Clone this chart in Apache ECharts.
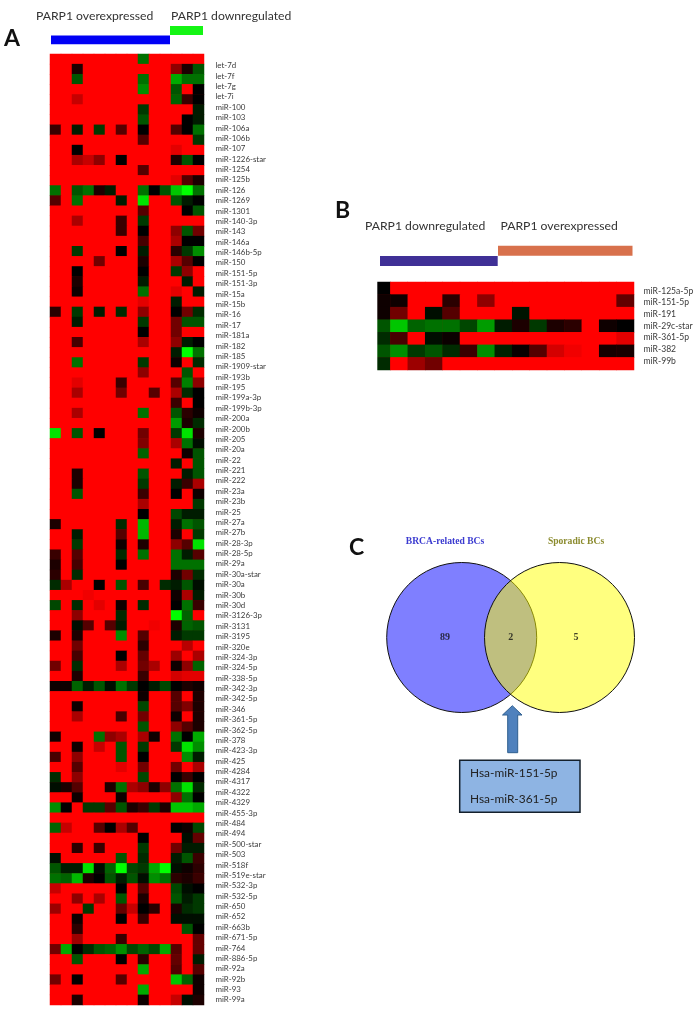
<!DOCTYPE html>
<html>
<head>
<meta charset="utf-8">
<style>html,body{margin:0;padding:0;background:#fff}#chart{width:700px;height:1014px;filter:blur(0.45px)}</style>
<script src="https://cdn.jsdelivr.net/npm/echarts@6/dist/echarts.min.js"></script>
</head>
<body>
<div id="chart"></div>
<script>
// Colour scale: -9 bright green, 0 black, +9 bright red. Cells not listed in a row are +9.
const background = 9;
const labelsA = ["let-7d","let-7f","let-7g","let-7i","miR-100","miR-103","miR-106a","miR-106b","miR-107","miR-1226-star","miR-1254","miR-125b","miR-126","miR-1269","miR-1301","miR-140-3p","miR-143","miR-146a","miR-146b-5p","miR-150","miR-151-5p","miR-151-3p","miR-15a","miR-15b","miR-16","miR-17","miR-181a","miR-182","miR-185","miR-1909-star","miR-193b","miR-195","miR-199a-3p","miR-199b-3p","miR-200a","miR-200b","miR-205","miR-20a","miR-22","miR-221","miR-222","miR-23a","miR-23b","miR-25","miR-27a","miR-27b","miR-28-3p","miR-28-5p","miR-29a","miR-30a-star","miR-30a","miR-30b","miR-30d","miR-3126-3p","miR-3131","miR-3195","miR-320e","miR-324-3p","miR-324-5p","miR-338-5p","miR-342-3p","miR-342-5p","miR-346","miR-361-5p","miR-362-5p","miR-378","miR-423-3p","miR-425","miR-4284","miR-4317","miR-4322","miR-4329","miR-455-3p","miR-484","miR-494","miR-500-star","miR-503","miR-518f","miR-519e-star","miR-532-3p","miR-532-5p","miR-650","miR-652","miR-663b","miR-671-5p","miR-764","miR-886-5p","miR-92a","miR-92b","miR-93","miR-99a"];
const rowsA = [
{8:-4},
{2:1,11:5,12:1,13:-3},
{2:-3,8:-4,11:-6,12:-4,13:-4},
{8:-5,11:-3,13:0},
{2:7,11:-3.5,12:2,13:0},
{8:-2,13:-1},
{8:-3,12:0,13:-1},
{0:2,2:-1,4:-2,6:3,8:0,11:3,12:0,13:-4},
{8:3,13:-2},
{2:0,11:8},
{2:6,3:7,4:5,6:0,11:1,12:-3,13:0},
{8:3},
{11:8,12:3,13:1},
{0:-4,2:-3,3:-4,4:1,5:-1,8:-4,9:0,10:-3,11:-7,12:-9,13:-4},
{0:3,2:-4,6:-1,8:-8,11:-3,12:-1,13:0},
{8:3,12:0,13:-3},
{2:6,6:2,8:-2},
{6:2,8:0,11:5,12:-3,13:4},
{8:2.5,11:6,12:0,13:0},
{2:-2,6:0,8:-1,11:1.5,12:-2,13:-5},
{4:4,8:1,11:6,12:3,13:0},
{2:0,8:0,11:-2,12:5},
{2:1,8:-1,12:-1},
{2:0.5,8:-4,11:8,13:-1},
{8:8,11:-1},
{0:1.5,2:-2,4:-1,6:-1.5,8:5,11:0,12:4,13:-1.5},
{2:-1,8:-2,11:4,12:-3,13:-3},
{8:0,11:4},
{2:2.5,8:6,11:5,12:-1,13:0},
{11:-1,12:-9,13:-4},
{2:-4,8:-2,11:0.5,13:-1.5},
{8:5,12:-3},
{2:8,6:2,11:3,12:-4.5,13:5},
{2:6,6:4,9:3,11:6,12:-1.5,13:0},
{11:2,13:0},
{2:6,8:-4,11:-3,12:1.5,13:0.5},
{11:-5.5,12:1,13:-1.5},
{0:-8,2:-3,4:0,8:4,11:-2,12:-8,13:1},
{8:4.5,11:6,12:-4,13:-0.5},
{8:-3.5,12:0.5,13:-3},
{11:-1,13:-3},
{2:1,8:-3,12:-1,13:-3},
{2:1,8:-2,11:-1,12:2,13:6},
{2:-3,8:2,11:0,13:0.5},
{8:6,13:-2},
{8:0,11:-2.5,12:-1,13:-1},
{0:1,6:-1.5,8:-6.5,11:-1,12:-4,13:-3},
{2:-1,6:3,8:-6.5,11:1,13:-2},
{2:-2,6:0.5,8:1,11:5,12:3,13:-8},
{0:2,2:3,6:-1.5,8:-4,11:-4,12:-1,13:3},
{0:1,2:2.5,6:0,11:-4,12:-4,13:-4},
{0:1.5,2:-1.5,11:1,12:4,13:-1.5},
{0:-1.5,1:6,4:0,6:-3,8:2.5,10:-1.5,11:-1,12:-3,13:-0.5},
{3:8.5,11:0.5,12:6,13:-1},
{0:-2.5,2:-1.5,4:8,6:0.5,8:-1.5,11:0,12:-4,13:2},
{2:5,6:-1.5,11:-9,12:-3.5},
{2:-0.5,3:3,5:3,6:-1,9:8.5,11:1,12:-3.5,13:-3},
{0:1,2:1,6:-5,8:3,11:-1,12:-2,13:-2},
{2:4,8:1.5,12:6.5},
{2:2.5,6:0,8:3.5,11:5.5,13:6},
{0:4,2:-1.5,6:6,8:4,9:6,11:0.5,12:5,13:-3.5},
{2:1,8:2,11:7.5,12:8,13:8},
{0:0.5,1:0.5,2:-3.5,3:-1,4:-3,5:-0.5,6:-4,7:-2,8:0,9:-1,10:-2.5,11:0,12:1,13:0.5},
{8:0.5,11:3,13:1},
{2:0.5,8:-2.5,11:3,12:4.5,13:1},
{2:6,6:2.5,8:4,11:0.5,13:1},
{8:-3,11:5,12:3,13:1},
{0:0.5,4:-4,5:5,6:6,8:6,9:0.5,11:-4,12:0,13:-6},
{2:0.5,4:7,6:-3,8:-2,11:-2,12:-8,13:-5},
{0:2.5,2:5,6:-3,8:0,12:-5,13:-1},
{2:3,6:8,8:4,11:4,13:6},
{0:-1.5,2:5,8:-2.5,11:0,12:2,13:0},
{0:-0.5,1:1,2:3,5:1,6:-4,7:6,8:5,9:1,10:5,11:-4,12:-8,13:-1.5},
{2:0.5,6:0.5,11:5,12:-4,13:0},
{0:-5,1:0,3:-2,4:-2,5:3,6:-3,7:1,8:2,9:-2,10:1,11:-7,12:-7,13:-6},
{},
{0:-3.5,1:7,4:3,5:0,6:6,7:3,11:0,12:0.5,13:-2.5},
{8:0,12:-0.5,13:3.5},
{2:1.5,4:2,8:-2,11:4,12:-1,13:-1},
{0:-0.5,6:-3,8:-1.5,11:-1,12:-3,13:2},
{0:-3,1:-1,2:-1,3:-8,4:-0.5,5:-3.5,6:-9,7:-2.5,8:-2,9:-6,10:-9,11:-0.5,12:0.5,13:1.5},
{0:-4,1:-3.5,2:-6.5,3:1,4:0,5:-3,6:-1,7:-3,8:-0.5,9:-5,10:-4,11:1.5,12:1,13:2},
{0:7,6:0,8:3,11:-2.5,12:-0.5,13:0},
{2:5,4:6,6:-3,8:1,11:-3,12:-1,13:-2},
{0:5.5,3:-2,6:3.5,7:7,8:0,9:1.5,11:1,12:-1.5,13:-2},
{2:0.5,6:0,8:2,11:-0.5,12:-0.5,13:-0.5},
{2:1.5,12:-3,13:0},
{2:5.5,6:2,13:3.5},
{0:4,1:-6,2:0,3:-1.5,4:-3,5:-3.5,6:-5,7:-2.5,8:-3.5,9:-2.5,10:-6,11:3,13:3.5},
{2:-3,6:0,8:1.5,11:3.5,13:-1},
{8:-6,11:3,13:3},
{0:4,2:0,6:3,11:-7,12:-3.5,13:0.5},
{8:-6,13:0.5},
{2:1,8:0.5,11:7,12:-0.5,13:1}
];
const labelsB = ["miR-125a-5p","miR-151-5p","miR-191","miR-29c-star","miR-361-5p","miR-382","miR-99b"];
const rowsB = [
{0:0},
{0:0.5,1:0.5,4:1.5,6:5,14:3.5},
{0:0.5,1:4,3:-0.5,4:3,8:-0.7},
{0:-3,1:-7,2:-3.5,3:-4,4:-4,5:-2.5,6:-5.5,7:-1,8:1,9:-2,10:1,11:1.5,13:0.5,14:0},
{0:-1.5,1:2.5,3:-0.5,4:0.4,14:8},
{0:-3,1:-5,2:-2,3:-3,4:-1.5,5:2,6:-5,7:-1.2,8:0.3,9:3,10:7.5,11:8.5,13:0.7,14:0.8},
{0:-1.5,2:5.5,3:4}
];
const vennSets = ["BRCA-related BCs","Sporadic BCs"];
const vennCounts = [89,2,5];
const sharedMirs = ["Hsa-miR-151-5p","Hsa-miR-361-5p"];

function cells(rows, nCols){
  const out = [];
  rows.forEach((r,i)=>{ for(let c=0;c<nCols;c++){ out.push([c,i,(c in r)?r[c]:background]); } });
  return out;
}
function seq(n){ return Array.from({length:n},(_,i)=>i); }
const hidden = {show:false};
const catHidden = (n,inv)=>({type:'category',data:seq(n),inverse:!!inv,axisLine:hidden,axisTick:hidden,axisLabel:hidden,splitLine:hidden});
const labelFont = 'Lato, "Open Sans", sans-serif';
function text(x,y,t,size,extra){
  return {type:'text',x:x,y:y,silent:true,z:20,style:Object.assign({text:t,font:size+'px '+labelFont,fill:'#333',textVerticalAlign:'middle'},extra||{})};
}
function bar(x,y,w,h,c){ return {type:'rect',silent:true,z:20,shape:{x:x,y:y,width:w,height:h},style:{fill:c}}; }
const labelAxis = (data,gi,size)=>({type:'category',gridIndex:gi,data:data,inverse:true,position:'right',axisLine:hidden,axisTick:hidden,splitLine:hidden,
  axisLabel:{show:true,interval:0,margin:0,fontSize:size,color:'#3a3a3a',fontFamily:labelFont,align:'left'}});

const option = {
  backgroundColor:'#fff',
  animation:false,
  grid:[
    {left:50,top:54,width:154,height:951,show:true,backgroundColor:'#ff0000',borderWidth:0},
    {left:214.5,top:60.5,width:1,height:944.6},
    {left:373,top:282,width:261,height:88,show:true,backgroundColor:'#ff0000',borderWidth:0},
    {left:642.5,top:284.9,width:1,height:81.7},
    {left:340,top:520,width:320,height:310}
  ],
  xAxis:[
    Object.assign(catHidden(14),{gridIndex:0}),
    {type:'value',gridIndex:1,show:false},
    Object.assign(catHidden(15),{gridIndex:2}),
    {type:'value',gridIndex:3,show:false},
    {type:'value',gridIndex:4,min:0,max:320,show:false}
  ],
  yAxis:[
    Object.assign(catHidden(rowsA.length,true),{gridIndex:0}),
    labelAxis(labelsA,1,7.9),
    Object.assign(catHidden(rowsB.length,true),{gridIndex:2}),
    labelAxis(labelsB,3,8.6),
    {type:'value',gridIndex:4,min:0,max:310,inverse:true,show:false}
  ],
  visualMap:[
    {show:false,seriesIndex:0,min:-9,max:9,inRange:{color:['#00ff00','#000000','#ff0000']}},
    {show:false,seriesIndex:1,min:-9,max:9,inRange:{color:['#00ff00','#000000','#ff0000']}}
  ],
  series:[
    {type:'heatmap',xAxisIndex:0,yAxisIndex:0,data:cells(rowsA,14),silent:true,progressive:0},
    {type:'heatmap',xAxisIndex:2,yAxisIndex:2,data:cells(rowsB,15),silent:true,progressive:0},
    {type:'scatter',xAxisIndex:4,yAxisIndex:4,symbol:'circle',symbolSize:150,silent:true,z:3,
      data:[
        {name:vennSets[0],value:[121.7,117.5],itemStyle:{color:'rgba(0,0,255,0.5)',borderColor:'#111',borderWidth:1,opacity:1}},
        {name:vennSets[1],value:[219.5,117.5],itemStyle:{color:'rgba(255,255,0,0.5)',borderColor:'#111',borderWidth:1,opacity:1}}
      ]},
    {type:'scatter',xAxisIndex:4,yAxisIndex:4,symbolSize:0,silent:true,z:4,
      label:{show:true,position:'inside',formatter:p=>p.data.n,fontFamily:'"Liberation Serif", serif',fontWeight:'bold',fontSize:10,color:'#111'},
      data:[{n:vennCounts[0],value:[105,117.5]},{n:vennCounts[1],value:[170.7,117.5]},{n:vennCounts[2],value:[236,117.5]}]}
  ],
  graphic:[
    text(36,16,'PARP1 overexpressed',12.2),
    text(171,16,'PARP1 downregulated',12.2),
    bar(51,35.5,119,8.7,'#0000f5'),
    bar(170,26,33,9,'#14f514'),
    text(4,38.5,'A',23,{font:'bold 23px '+labelFont,fill:'#111'}),

    text(335,210.5,'B',23,{font:'bold 23px '+labelFont,fill:'#111'}),
    text(365,226,'PARP1 downregulated',12.2),
    text(500.5,226,'PARP1 overexpressed',12.2),
    bar(380,256,117.7,10,'#3f3096'),
    bar(498,245.7,134.5,10,'#d8714c'),
    {type:'rect',silent:true,z:20,shape:{x:372,y:280,width:5.3,height:92},style:{fill:'#fff'}},

    text(349,548,'C',23,{font:'bold 23px '+labelFont,fill:'#111'}),
    text(445,542,vennSets[0],9.6,{font:'bold 9.6px "Liberation Serif", serif',fill:'#3a3ad0',textAlign:'center'}),
    text(576,542,vennSets[1],9.6,{font:'bold 9.6px "Liberation Serif", serif',fill:'#8b8b2e',textAlign:'center'}),
    {type:'polygon',silent:true,z:20,shape:{points:[[512.3,705.7],[522,715],[517.7,715],[517.7,752.7],[507.7,752.7],[507.7,715],[502.5,715]]},
      style:{fill:'#4f81bd',stroke:'#2f5f8f',lineWidth:1}},
    {type:'rect',silent:true,z:20,shape:{x:459.7,y:760.3,width:120.3,height:52},style:{fill:'#8eb4e3',stroke:'#14202c',lineWidth:1.5}},
    text(470,773,sharedMirs[0],11.9,{fill:'#222'}),
    text(470,799,sharedMirs[1],11.9,{fill:'#222'})
  ]
};
echarts.init(document.getElementById('chart'),null,{renderer:'canvas'}).setOption(option);
</script>
</body>
</html>
